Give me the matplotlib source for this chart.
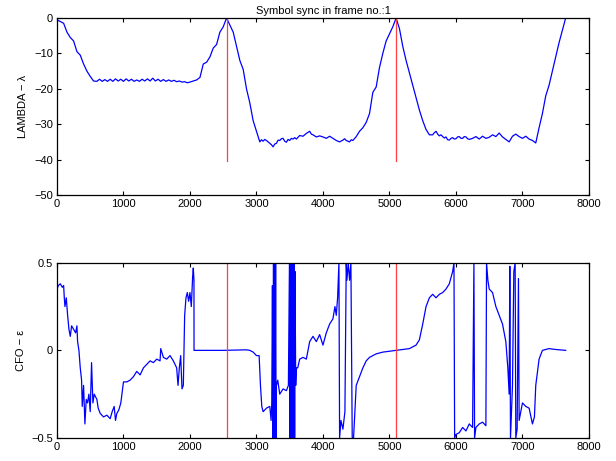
import matplotlib
matplotlib.use('Agg')
import matplotlib.pyplot as plt

# symbol sync metric (lambda)
lam_x = [0, 50, 100, 150, 200, 250, 300, 350, 400, 450, 500, 550,
         600, 640, 680, 720, 760, 800, 840, 880, 920, 960, 1000, 1040, 1080,
         1120, 1160, 1200, 1240, 1280, 1320, 1360, 1400, 1440, 1480, 1520,
         1560, 1600, 1640, 1680, 1720, 1760, 1800, 1840, 1880, 1920, 1960, 2000,
         2050, 2100, 2150, 2200, 2250, 2300, 2350, 2400, 2450, 2500, 2550,
         2600, 2650, 2700, 2750, 2800, 2850, 2900, 2950, 3000, 3050,
         3075, 3100, 3125, 3150, 3175, 3200, 3225, 3250, 3275, 3300, 3325, 3350,
         3375, 3400, 3425, 3450, 3475, 3500, 3525, 3550, 3575, 3600,
         3650, 3700, 3750, 3800, 3825, 3850, 3900, 3950, 4000, 4050, 4100, 4150,
         4200, 4250, 4300, 4325, 4350, 4400, 4425, 4450, 4500, 4550, 4600, 4650, 4700,
         4750, 4800, 4850, 4900, 4950, 5000, 5050, 5100,
         5150, 5200, 5250, 5300, 5350, 5400, 5450, 5500, 5550, 5600, 5650,
         5675, 5700, 5725, 5750, 5775, 5800, 5825, 5850, 5875, 5900, 5925, 5950,
         5975, 6000, 6025, 6050, 6075, 6100, 6125, 6150, 6175, 6200,
         6250, 6300, 6350, 6400, 6450, 6500, 6550, 6600, 6650, 6700, 6750,
         6800, 6850, 6900, 6950, 7000, 7050, 7100, 7150, 7200,
         7250, 7300, 7350, 7400, 7450, 7500, 7550, 7600, 7650, 7680]
lam_y = [-0.5, -1.0, -1.5, -4.0, -5.5, -6.5, -9.5, -10.5, -13.0, -15.0, -16.5, -17.8,
         -17.9, -17.3, -17.9, -17.4, -17.9, -17.3, -17.9, -17.2, -17.8, -17.3, -17.9, -17.2, -17.8,
         -17.3, -17.9, -17.5, -17.9, -17.3, -17.8, -17.2, -17.8, -17.0, -17.8, -17.3,
         -17.9, -17.4, -17.9, -17.5, -17.9, -17.6, -18.0, -17.8, -18.1, -18.0, -18.3, -18.1,
         -17.8, -17.5, -16.8, -13.0, -12.5, -11.0, -8.5, -7.5, -4.0, -2.5, 0.0,
         -2.0, -4.0, -8.0, -12.0, -14.5, -20.0, -24.0, -29.0, -32.0, -35.0,
         -34.4, -34.8, -34.3, -34.6, -35.0, -35.4, -35.8, -36.4, -35.6, -35.4, -34.5, -34.6,
         -34.1, -34.0, -34.8, -35.1, -34.3, -34.6, -34.0, -34.2, -33.8, -34.2,
         -33.2, -33.4, -32.6, -32.0, -32.8, -33.0, -33.6, -33.3, -33.6, -34.0, -33.4, -34.0,
         -34.6, -35.0, -34.5, -34.1, -34.6, -35.0, -34.4, -34.6, -33.5, -32.0, -31.0, -29.5, -27.0,
         -21.0, -19.5, -14.0, -10.0, -6.5, -4.5, -2.5, 0.0,
         -3.0, -8.0, -12.0, -15.5, -19.0, -22.5, -26.0, -29.0, -31.5, -33.0, -33.0,
         -32.4, -32.0, -32.8, -33.3, -33.0, -33.5, -33.9, -33.6, -34.4, -34.5, -34.0, -33.8,
         -34.2, -34.1, -33.6, -33.5, -34.0, -34.0, -33.5, -33.6, -34.1, -34.3,
         -34.0, -33.5, -34.2, -33.4, -34.0, -33.7, -33.0, -33.5, -32.5, -33.6, -34.3,
         -35.0, -33.4, -32.8, -33.5, -34.0, -33.4, -34.2, -34.6, -35.3,
         -31.0, -27.0, -22.0, -19.0, -15.0, -11.0, -7.0, -3.5, 0.0, 0.5]

# CFO estimate (epsilon)
cfo_x = [0, 20, 50, 80, 100, 110, 120, 140, 160, 180, 200, 220, 250, 280, 300,
         310, 330, 350, 370, 380, 400, 420, 440, 460, 480, 500, 520, 540, 560,
         600, 620, 650, 700, 750, 800, 830, 860, 880, 900, 930, 960, 1000, 1050,
         1100, 1150, 1200, 1250, 1300, 1350, 1400, 1450, 1500, 1550, 1560, 1600,
         1650, 1700, 1750, 1800, 1820, 1840, 1860, 1880, 1900, 1920, 1940, 1960,
         1980, 2000, 2020, 2040, 2050, 2060, 2061, 2500, 2850, 2900, 2950, 3000,
         3040, 3060, 3080, 3100, 3150, 3200, 3220, 3230, 3240, 3248, 3256, 3264,
         3272, 3280, 3288, 3296, 3300, 3320, 3350, 3400, 3450, 3480, 3496, 3502,
         3508, 3514, 3520, 3526, 3532, 3538, 3544, 3550, 3556, 3562, 3568, 3574,
         3580, 3590, 3600, 3620, 3650, 3700, 3750, 3800,
         3850, 3900, 3950, 4000, 4050, 4100, 4150, 4180, 4200, 4220, 4240, 4250,
         4270, 4300, 4330, 4350, 4360, 4380, 4400, 4420, 4440, 4450, 4460, 4480,
         4500, 4550,
         4600, 4650, 4700, 4800, 4900, 5000, 5100, 5200, 5300, 5400, 5450, 5500,
         5550, 5600, 5650, 5700, 5750, 5800, 5850, 5900, 5950, 5970, 5980, 6000,
         6050, 6100, 6150, 6200, 6250, 6270, 6280, 6300, 6350, 6400, 6450, 6460,
         6480, 6500, 6550, 6600, 6650, 6700, 6750, 6780, 6800, 6810, 6820, 6850,
         6870, 6890, 6900, 6920, 6940, 6950, 7000, 7050, 7100, 7150, 7180, 7200,
         7250, 7300, 7400, 7500, 7650]
cfo_y = [0.35, 0.37, 0.38, 0.36, 0.37, 0.30, 0.25, 0.30, 0.20, 0.12, 0.08, 0.14, 0.12, 0.10, 0.14,
         0.05, 0.00, -0.10, -0.17, -0.32, -0.20, -0.42, -0.28, -0.30, -0.25, -0.35, -0.07, -0.30, -0.25,
         -0.28, -0.33, -0.36, -0.38, -0.37, -0.39, -0.35, -0.32, -0.40, -0.36, -0.34, -0.30, -0.18, -0.18,
         -0.17, -0.15, -0.12, -0.14, -0.10, -0.08, -0.06, -0.07, -0.05, -0.06, 0.01, -0.04,
         -0.05, -0.03, -0.06, -0.10, -0.20, -0.10, -0.03, -0.22, -0.20, 0.20, 0.30, 0.33,
         0.28, 0.33, 0.25, 0.42, 0.47, 0.40, 0.0, 0.0, 0.003, 0.0, -0.01, -0.03,
         -0.03, -0.20, -0.32, -0.35, -0.33, -0.32, -0.40, -0.30, 0.37, -0.50, 0.50, -0.50,
         0.50, -0.50, 0.50, -0.50, -0.20, -0.17, -0.25, -0.22, -0.23, -0.20, 0.50, -0.50,
         0.50, -0.50, 0.50, -0.50, 0.50, -0.50, 0.50, -0.50, 0.50, -0.50, 0.50, -0.50,
         0.45, -0.20, -0.10, -0.10, -0.05, -0.04, -0.05, 0.05,
         0.08, 0.05, 0.09, 0.03, 0.10, 0.15, 0.18, 0.25, 0.20, 0.30, 0.50, -0.50,
         -0.40, -0.45, -0.35, 0.50, 0.40, 0.50, 0.40, 0.50, -0.50, -0.50, -0.50, -0.35,
         -0.20, -0.15,
         -0.10, -0.06, -0.04, -0.02, -0.01, -0.005, 0.0, 0.005, 0.01, 0.03, 0.06, 0.15,
         0.25, 0.30, 0.32, 0.30, 0.32, 0.33, 0.35, 0.38, 0.45, 0.50, -0.50, -0.48,
         -0.47, -0.44, -0.46, -0.42, -0.44, 0.50, -0.50, -0.44, -0.42, -0.41, -0.43, 0.50,
         0.40, 0.35, 0.33, 0.25, 0.20, 0.15, 0.05, -0.10, -0.25, 0.48, -0.50, -0.20,
         0.45, 0.50, -0.50, -0.45, 0.41, -0.40, -0.30, -0.32, -0.33, -0.42, -0.38, -0.20,
         -0.05, 0.0, 0.01, 0.005, 0.0]

sync_pos = [2550, 5100]
lam_ticks = [-50, -40, -30, -20, -10, 0]
cfo_ticks = [-0.5, 0, 0.5]
x_ticks = [0, 1000, 2000, 3000, 4000, 5000, 6000, 7000, 8000]

plt.rcParams['font.family'] = ['Liberation Sans', 'DejaVu Sans']
plt.rcParams['font.size'] = 8
plt.rcParams['axes.unicode_minus'] = True

fig = plt.figure(figsize=(6.16, 4.61), dpi=100)
ax1 = fig.add_axes([0.0925, 0.577, 0.8636, 0.384])
ax2 = fig.add_axes([0.0925, 0.050, 0.8636, 0.380])

ax1.plot(lam_x, lam_y, color='#0000ff', lw=0.9)
for s in sync_pos:
    ax1.plot([s, s], [0, -40.5], color='#ff4040', lw=0.9)
ax1.set_xlim(0, 8000)
ax1.set_ylim(-50, 0)
ax1.set_yticks(lam_ticks)
ax1.set_ylabel('LAMBDA \u2212 \u03bb')
ax1.set_title('Symbol sync in frame no.:1', fontsize=8, pad=3)

ax2.plot(cfo_x, cfo_y, color='#0000ff', lw=0.9)
for s in sync_pos:
    ax2.axvline(s, color='#ff4040', lw=0.9)
ax2.set_xlim(0, 8000)
ax2.set_ylim(-0.5, 0.5)
ax2.set_yticks(cfo_ticks)
ax2.set_yticklabels(['\u22120.5', '0', '0.5'])
ax2.set_ylabel('CFO \u2212 \u03b5')

for ax in (ax1, ax2):
    ax.set_xticks(x_ticks)
    ax.tick_params(direction='in', top=True, right=True, length=3, width=0.8, pad=3)
    for sp in ax.spines.values():
        sp.set_linewidth(0.9)

fig.savefig('out.png', dpi=100)
